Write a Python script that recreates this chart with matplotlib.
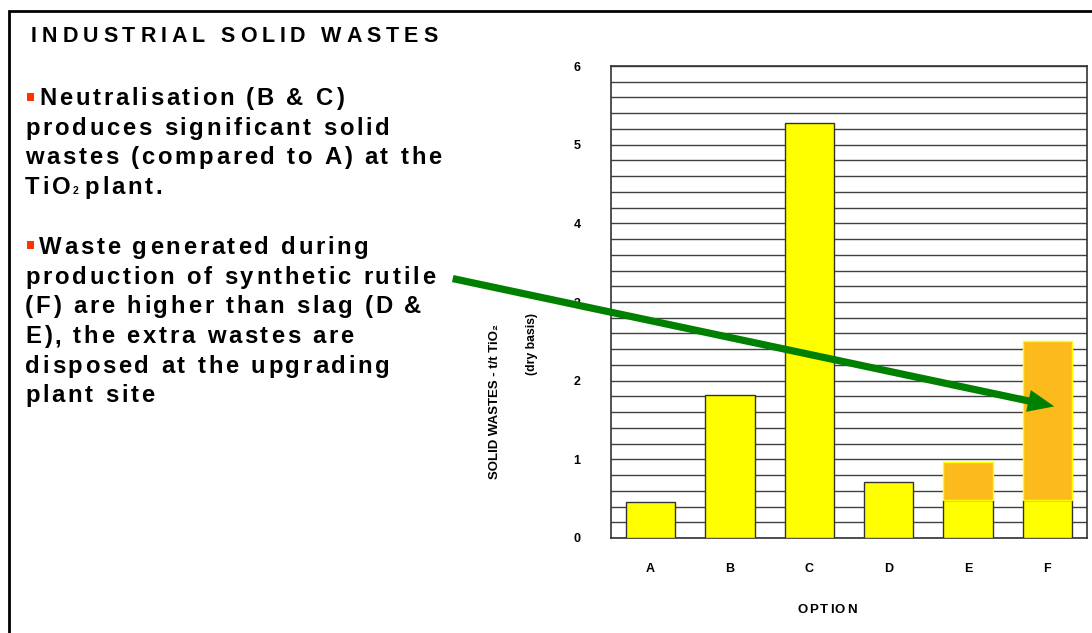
import numpy as np
import matplotlib
matplotlib.use("Agg")
import matplotlib.pyplot as plt
from matplotlib import font_manager
from matplotlib.ft2font import LoadFlags
from matplotlib.patches import Rectangle, FancyArrowPatch

# waste tonnes per tonne TiO2 (dry basis)
options = ["A", "B", "C", "D", "E", "F"]
tio2_plant = [0.46, 1.82, 5.27, 0.71, 0.48, 0.48]
upgrading_plant = [0.0, 0.0, 0.0, 0.0, 0.48, 2.03]
y_ticks = [0, 1, 2, 3, 4, 5, 6]

title = "INDUSTRIAL SOLID WASTES"
para1 = ["Neutralisation (B & C)", "produces significant solid",
         "wastes (compared to A) at the", None]
para2 = ["Waste generated during", "production of synthetic rutile",
         "(F) are higher than slag (D &", "E), the extra wastes are",
         "disposed at the upgrading", "plant site"]

W, H = 1092, 633
fig = plt.figure(figsize=(W / 100, H / 100), dpi=100)

FONT = ["Liberation Sans", "DejaVu Sans"]


def advances(s, size, weight="bold"):
    prop = font_manager.FontProperties(family="Liberation Sans", weight=weight, size=size)
    font = font_manager.get_font(font_manager.findfont(prop))
    font.set_size(size, fig.dpi)
    out = []
    for ch in s:
        g = font.load_char(ord(ch), flags=LoadFlags.NO_HINTING)
        out.append(g.linearHoriAdvance / 65536)
    return prop, out


def spaced(x, y, s, size, spacing, weight="bold", color="black", ha="left"):
    # letter-spaced text, x/y in pixels from the top-left corner
    prop, adv = advances(s, size, weight)
    if ha == "center":
        x -= (sum(adv) + spacing * (len(s) - 1)) / 2
    for ch, a in zip(s, adv):
        fig.text(x / W, 1 - y / H, ch, fontproperties=prop, color=color,
                 va="baseline", ha="left")
        x += a + spacing
    return x


def bullet(x, y):
    fig.add_artist(Rectangle((x / W, 1 - y / H), 7 / W, 8 / H,
                             transform=fig.transFigure, color="#FF3300", lw=0))


# frame round the slide
fig.add_artist(Rectangle((8.7 / W, -0.1), 1.2, 1 - 10.5 / H + 0.1,
                         transform=fig.transFigure, fill=False,
                         edgecolor="black", lw=2.0))

spaced(31, 42, title, 15.5, 4.85)

body_size = 17.2
track = 2.75
gap = 29.7
bullet(27, 101)
y = 105
spaced(39, y, para1[0], body_size, track)
for line in para1[1:3]:
    y += gap
    spaced(25, y, line, body_size, track)
y += gap
x = spaced(25, y, "TiO", body_size, track)
x = spaced(x, y, "2", 7.5, track)
spaced(x + 3, y, "plant.", body_size, track)

bullet(27, 249)
y = 254
spaced(39, y, para2[0], body_size, track)
for line in para2[1:]:
    y += gap
    spaced(25, y, line, body_size, track)

# bar chart
ax = fig.add_axes([611 / W, 1 - 538 / H, 476 / W, 472 / H])
xpos = np.arange(len(options))
ax.bar(xpos, tio2_plant, width=0.62, color="#FFFF00", edgecolor="#333333", lw=1, zorder=3)
ax.bar(xpos[4:], upgrading_plant[4:], bottom=tio2_plant[4:], width=0.62,
       color="#FDBA1C", edgecolor="#FFFF00", lw=1, zorder=3)

ax.set_xlim(-0.5, 5.5)
ax.set_ylim(0, 6)
ax.set_yticks(y_ticks)
ax.set_yticks(np.arange(0, 6.01, 0.2), minor=True)
ax.set_yticklabels([str(v) for v in y_ticks], fontweight="bold", fontsize=9, family=FONT)
ax.set_xticks(xpos)
ax.set_xticklabels(options, fontweight="bold", fontsize=9, family=FONT)
ax.tick_params(axis="y", which="both", length=0, pad=22)
ax.tick_params(axis="x", length=0, pad=18)
ax.grid(which="both", axis="y", color="#404040", lw=1, zorder=0)
ax.set_axisbelow(True)
for sp in ax.spines.values():
    sp.set_color("#333333")
    sp.set_linewidth(1.2)

fig.text(495 / W, 1 - 402 / H, "SOLID WASTES - t/t TiO\u2082", rotation=90,
         ha="center", va="center", fontsize=9.5, fontweight="bold", family=FONT)
fig.text(532 / W, 1 - 344 / H, "(dry basis)", rotation=90,
         ha="center", va="center", fontsize=8.8, fontweight="bold", family=FONT)
spaced(827, 613, "OPTION", 9.5, 1.6, ha="center")

# pointer from the text to the synthetic rutile bar
arrow = FancyArrowPatch((450 / W, 1 - 278 / H), (1057 / W, 1 - 407 / H),
                        transform=fig.transFigure, mutation_scale=1,
                        arrowstyle="simple,head_length=19,head_width=16,tail_width=5.2",
                        color="#008000", lw=0, zorder=10)
fig.add_artist(arrow)

fig.savefig("out.png", dpi=100)
